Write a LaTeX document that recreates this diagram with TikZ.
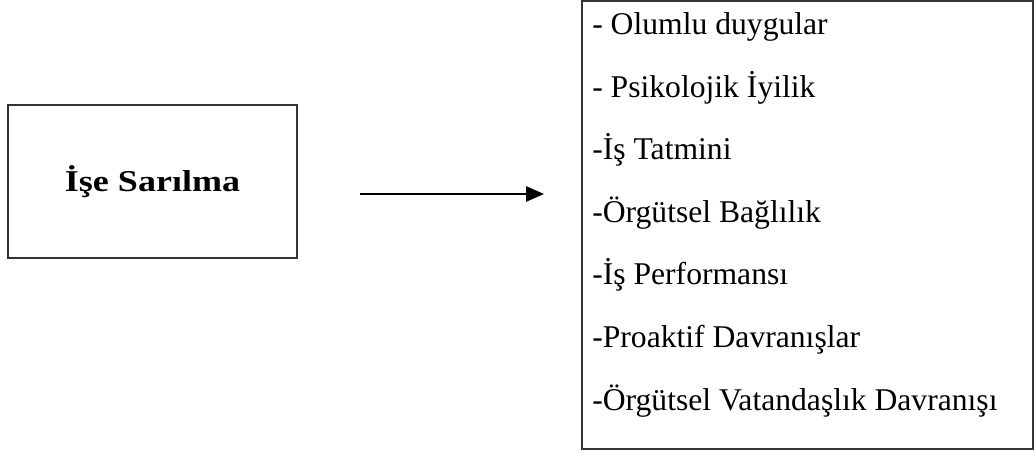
\documentclass[tikz,border=0pt]{standalone}
\usepackage{fontspec}
\setmainfont{Liberation Serif}
\usepackage{tikz}
\usetikzlibrary{positioning, arrows.meta}

\begin{document}
\begin{tikzpicture}[
    kutu/.style={draw=black!80, line width=1.4pt, rectangle, inner sep=0pt},
    madde/.style={anchor=base west, inner sep=0pt, font=\fontsize{22.5}{27}\selectfont}
]
    \useasboundingbox (0,0) rectangle (25.9,11.375);
    \node[kutu, minimum width=7.225cm, minimum height=3.825cm] (isesarilma) at (3.8125,6.8375)
        {\raisebox{-0.1cm}{\scalebox{1.25}[1.05]{\fontsize{20.5}{24}\selectfont\bfseries İşe Sarılma}}};
    \node[kutu, minimum width=11.275cm, minimum height=11.2cm] (sonuclar) at (20.1875,5.75) {};
    \foreach \i/\c in {0/- Olumlu duygular,1/- Psikolojik İyilik,2/-İş Tatmini,3/-Örgütsel Bağlılık,4/-İş Performansı,5/-Proaktif Davranışlar,6/-Örgütsel Vatandaşlık Davranışı} {
        \node[madde] (madde\i) at (14.8,10.5-1.5625*\i) {\c};
    }
    \draw[-{Triangle[length=0.45cm,width=0.38cm]}, line width=1.6pt, shorten <=1.55cm, shorten >=0.925cm]
        ([yshift=-0.3125cm]isesarilma.east) -- ([yshift=-0.3125cm]isesarilma.east -| sonuclar.west);
\end{tikzpicture}
\end{document}
